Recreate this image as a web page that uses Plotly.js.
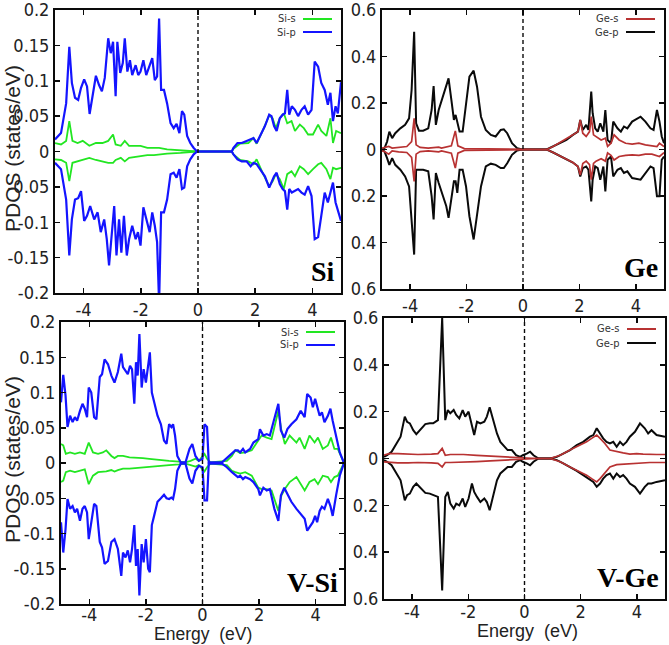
<!DOCTYPE html>
<html>
<head>
<meta charset="utf-8">
<script src="https://cdn.plot.ly/plotly-3.0.1.min.js"></script>
<style>
  html, body { margin: 0; padding: 0; background: #fff; }
  #chart { width: 669px; height: 645px; }
</style>
</head>
<body>
<div id="chart"></div>
<script>
// Spin-resolved partial density of states, energies in eV relative to E_F.
// Each list holds [energy, |PDOS|] pairs; spin-down curves are drawn mirrored below zero.

// ---- Si ----
const si_p_up = [[-5.0,0.017],[-4.79,0.026],[-4.61,0.068],[-4.50,0.148],[-4.41,0.097],[-4.30,0.076],[-4.19,0.073],[-4.09,0.090],[-3.98,0.102],[-3.88,0.092],[-3.79,0.053],[-3.69,0.078],[-3.57,0.107],[-3.46,0.094],[-3.36,0.085],[-3.26,0.104],[-3.14,0.160],[-3.05,0.139],[-2.97,0.155],[-2.88,0.078],[-2.82,0.155],[-2.72,0.111],[-2.63,0.125],[-2.56,0.160],[-2.47,0.113],[-2.38,0.129],[-2.30,0.108],[-2.18,0.122],[-2.09,0.108],[-2.01,0.113],[-1.91,0.129],[-1.81,0.108],[-1.69,0.122],[-1.60,0.132],[-1.51,0.101],[-1.43,0.106],[-1.36,0.188],[-1.29,0.087],[-1.19,0.087],[-1.08,0.068],[-0.96,0.040],[-0.85,0.033],[-0.75,0.039],[-0.65,0.026],[-0.56,0.057],[-0.48,0.052],[-0.38,0.022],[-0.27,0.012],[-0.15,0.005],[-0.03,0],[1.18,0],[1.24,0.005],[1.38,0.012],[1.53,0.012],[1.70,0.015],[1.84,0.017],[1.94,0.019],[2.05,0.012],[2.17,0.022],[2.34,0.036],[2.49,0.052],[2.57,0.050],[2.66,0.036],[2.75,0.029],[2.86,0.047],[2.96,0.052],[3.04,0.054],[3.12,0.087],[3.19,0.052],[3.28,0.064],[3.39,0.059],[3.50,0.050],[3.62,0.059],[3.73,0.064],[3.85,0.052],[3.97,0.059],[4.08,0.127],[4.20,0.120],[4.31,0.097],[4.43,0.087],[4.54,0.066],[4.63,0.083],[4.72,0.043],[4.81,0.064],[4.89,0.054],[5.0,0.098]];
const si_p_dn = [[-5.0,0.016],[-4.79,0.025],[-4.61,0.068],[-4.50,0.147],[-4.41,0.096],[-4.30,0.068],[-4.19,0.066],[-4.09,0.056],[-3.98,0.098],[-3.88,0.091],[-3.77,0.077],[-3.63,0.096],[-3.51,0.086],[-3.40,0.114],[-3.28,0.096],[-3.19,0.124],[-3.11,0.161],[-3.01,0.114],[-2.93,0.077],[-2.85,0.147],[-2.76,0.096],[-2.68,0.143],[-2.59,0.091],[-2.49,0.147],[-2.41,0.124],[-2.30,0.105],[-2.18,0.124],[-2.10,0.114],[-2.01,0.133],[-1.91,0.079],[-1.81,0.096],[-1.69,0.114],[-1.60,0.086],[-1.51,0.105],[-1.43,0.128],[-1.36,0.215],[-1.29,0.086],[-1.19,0.086],[-1.08,0.068],[-0.96,0.032],[-0.85,0.030],[-0.75,0.037],[-0.65,0.025],[-0.56,0.053],[-0.48,0.051],[-0.38,0.021],[-0.27,0.011],[-0.15,0.004],[-0.03,0],[1.18,0],[1.24,0.004],[1.38,0.011],[1.53,0.014],[1.70,0.014],[1.84,0.021],[1.94,0.016],[2.05,0.018],[2.17,0.025],[2.34,0.035],[2.49,0.051],[2.57,0.044],[2.66,0.035],[2.75,0.030],[2.86,0.046],[2.96,0.053],[3.04,0.056],[3.12,0.082],[3.19,0.053],[3.28,0.058],[3.39,0.056],[3.50,0.053],[3.62,0.058],[3.73,0.061],[3.85,0.049],[3.97,0.063],[4.08,0.124],[4.20,0.121],[4.31,0.091],[4.43,0.058],[4.54,0.072],[4.63,0.058],[4.72,0.044],[4.81,0.072],[4.89,0.082],[5.0,0.098]];
const si_s_up = [[-5.0,0.012],[-4.79,0.010],[-4.61,0.015],[-4.50,0.043],[-4.39,0.015],[-4.21,0.012],[-4.03,0.015],[-3.80,0.008],[-3.57,0.012],[-3.34,0.012],[-3.14,0.015],[-2.97,0.024],[-2.88,0.010],[-2.70,0.008],[-2.56,0.015],[-2.41,0.008],[-2.24,0.008],[-2.01,0.008],[-1.77,0.005],[-1.54,0.005],[-1.36,0.005],[-1.08,0.003],[-0.61,0.002],[-0.03,0],[1.18,0],[1.24,0.004],[1.47,0.011],[1.76,0.012],[1.94,0.019],[2.05,0.011],[2.28,0.031],[2.49,0.051],[2.61,0.047],[2.72,0.033],[2.86,0.047],[3.00,0.054],[3.12,0.040],[3.27,0.043],[3.39,0.029],[3.56,0.038],[3.70,0.033],[3.85,0.024],[4.02,0.024],[4.20,0.038],[4.31,0.029],[4.49,0.022],[4.63,0.047],[4.72,0.012],[4.83,0.029],[5.0,0.026]];
const si_s_dn = [[-5.0,0.011],[-4.79,0.012],[-4.61,0.016],[-4.50,0.042],[-4.39,0.016],[-4.21,0.014],[-4.03,0.011],[-3.80,0.009],[-3.57,0.012],[-3.34,0.014],[-3.14,0.016],[-2.97,0.016],[-2.88,0.012],[-2.70,0.009],[-2.56,0.014],[-2.41,0.009],[-2.24,0.008],[-2.01,0.007],[-1.77,0.005],[-1.54,0.005],[-1.36,0.004],[-1.08,0.003],[-0.61,0.002],[-0.03,0],[1.18,0],[1.24,0.004],[1.47,0.012],[1.76,0.014],[1.94,0.018],[2.05,0.011],[2.28,0.032],[2.49,0.049],[2.61,0.042],[2.72,0.032],[2.86,0.039],[3.00,0.053],[3.12,0.032],[3.27,0.028],[3.39,0.035],[3.56,0.021],[3.70,0.025],[3.85,0.032],[4.02,0.025],[4.20,0.018],[4.31,0.016],[4.49,0.025],[4.63,0.039],[4.72,0.023],[4.83,0.025],[5.0,0.023]];

// ---- Ge ----
const ge_p_up = [[-5.0,0.0],[-4.91,0.006],[-4.82,0.034],[-4.74,0.077],[-4.64,0.049],[-4.53,0.070],[-4.35,0.091],[-4.18,0.106],[-4.04,0.134],[-3.95,0.256],[-3.86,0.506],[-3.79,0.113],[-3.69,0.081],[-3.54,0.081],[-3.36,0.091],[-3.24,0.170],[-3.17,0.273],[-3.09,0.106],[-2.99,0.170],[-2.84,0.227],[-2.72,0.270],[-2.64,0.306],[-2.54,0.213],[-2.45,0.127],[-2.39,0.149],[-2.33,0.113],[-2.25,0.077],[-2.14,0.077],[-2.02,0.184],[-1.90,0.313],[-1.75,0.339],[-1.63,0.270],[-1.49,0.141],[-1.32,0.084],[-1.14,0.063],[-0.97,0.056],[-0.79,0.084],[-0.68,0.087],[-0.56,0.070],[-0.39,0.027],[-0.21,0.006],[-0.03,0],[0.84,0],[1.07,0.013],[1.31,0.027],[1.54,0.041],[1.77,0.063],[1.95,0.077],[2.03,0.127],[2.12,0.084],[2.24,0.106],[2.32,0.084],[2.42,0.249],[2.47,0.156],[2.56,0.091],[2.65,0.077],[2.74,0.113],[2.85,0.077],[2.92,0.170],[3.00,0.041],[3.12,0.027],[3.20,0.120],[3.35,0.091],[3.47,0.077],[3.58,0.099],[3.70,0.091],[3.87,0.120],[4.17,0.141],[4.34,0.120],[4.52,0.091],[4.63,0.084],[4.75,0.170],[4.84,0.120],[4.92,0.056],[5.0,0.027]];
const ge_p_dn = [[-5.0,0.0],[-4.91,0.009],[-4.82,0.037],[-4.74,0.066],[-4.64,0.037],[-4.53,0.066],[-4.35,0.087],[-4.18,0.116],[-4.04,0.159],[-3.95,0.301],[-3.86,0.452],[-3.79,0.087],[-3.69,0.087],[-3.54,0.087],[-3.36,0.094],[-3.24,0.201],[-3.17,0.301],[-3.09,0.101],[-2.99,0.144],[-2.84,0.201],[-2.72,0.244],[-2.64,0.294],[-2.54,0.201],[-2.45,0.137],[-2.39,0.137],[-2.33,0.187],[-2.25,0.087],[-2.14,0.087],[-2.02,0.159],[-1.90,0.287],[-1.75,0.387],[-1.63,0.273],[-1.49,0.159],[-1.32,0.073],[-1.14,0.061],[-0.97,0.066],[-0.79,0.080],[-0.68,0.080],[-0.56,0.059],[-0.39,0.023],[-0.21,0.004],[-0.03,0],[0.84,0],[1.07,0.013],[1.31,0.027],[1.54,0.041],[1.77,0.056],[1.95,0.073],[2.03,0.116],[2.12,0.080],[2.24,0.073],[2.32,0.087],[2.42,0.223],[2.47,0.130],[2.56,0.073],[2.65,0.080],[2.74,0.130],[2.85,0.073],[2.92,0.180],[3.00,0.044],[3.12,0.030],[3.20,0.116],[3.35,0.087],[3.47,0.080],[3.58,0.101],[3.70,0.094],[3.87,0.123],[4.17,0.130],[4.34,0.101],[4.52,0.073],[4.63,0.080],[4.75,0.201],[4.84,0.201],[4.92,0.044],[5.0,0.030]];
const ge_s_up = [[-5.0,0.006],[-4.91,0.009],[-4.76,0.013],[-4.64,0.006],[-4.41,0.010],[-4.12,0.013],[-3.95,0.034],[-3.86,0.134],[-3.79,0.020],[-3.65,0.009],[-3.36,0.006],[-2.99,0.010],[-2.89,0.006],[-2.54,0.016],[-2.40,0.080],[-2.31,0.016],[-2.08,0.004],[-1.49,0.003],[-0.68,0.001],[-0.03,0],[0.84,0],[1.07,0.013],[1.31,0.030],[1.54,0.044],[1.77,0.063],[1.95,0.077],[2.03,0.127],[2.12,0.070],[2.24,0.056],[2.36,0.077],[2.42,0.141],[2.50,0.063],[2.59,0.056],[2.77,0.041],[2.92,0.049],[3.00,0.013],[3.12,0.027],[3.23,0.063],[3.41,0.041],[3.64,0.027],[3.87,0.023],[4.11,0.027],[4.34,0.020],[4.57,0.016],[4.75,0.013],[4.84,0.027],[5.0,0.013]];
const ge_s_dn = [[-5.0,0.006],[-4.91,0.009],[-4.76,0.020],[-4.64,0.006],[-4.41,0.010],[-4.12,0.013],[-3.95,0.034],[-3.86,0.137],[-3.79,0.020],[-3.65,0.009],[-3.36,0.006],[-2.99,0.010],[-2.89,0.006],[-2.54,0.016],[-2.40,0.080],[-2.31,0.016],[-2.08,0.004],[-1.49,0.003],[-0.68,0.001],[-0.03,0],[0.84,0],[1.07,0.013],[1.31,0.027],[1.54,0.041],[1.77,0.056],[1.95,0.073],[2.03,0.110],[2.12,0.060],[2.24,0.050],[2.36,0.065],[2.42,0.130],[2.50,0.060],[2.59,0.050],[2.77,0.040],[2.92,0.050],[3.00,0.015],[3.12,0.025],[3.23,0.045],[3.41,0.030],[3.64,0.025],[3.87,0.023],[4.11,0.025],[4.34,0.020],[4.57,0.020],[4.75,0.025],[4.84,0.030],[5.0,0.013]];

// ---- V-Si ----
const vsi_p_up = [[-5.0,0.086],[-4.92,0.125],[-4.84,0.096],[-4.77,0.051],[-4.68,0.067],[-4.59,0.058],[-4.51,0.065],[-4.43,0.060],[-4.33,0.074],[-4.24,0.084],[-4.16,0.077],[-4.08,0.065],[-4.02,0.107],[-3.93,0.100],[-3.83,0.065],[-3.75,0.062],[-3.63,0.122],[-3.55,0.126],[-3.46,0.147],[-3.34,0.140],[-3.22,0.124],[-3.11,0.114],[-2.99,0.129],[-2.87,0.155],[-2.81,0.136],[-2.72,0.131],[-2.64,0.126],[-2.56,0.138],[-2.49,0.133],[-2.41,0.084],[-2.35,0.143],[-2.29,0.124],[-2.23,0.183],[-2.15,0.107],[-2.08,0.133],[-2.00,0.114],[-1.92,0.143],[-1.86,0.157],[-1.79,0.100],[-1.71,0.086],[-1.59,0.067],[-1.47,0.055],[-1.36,0.032],[-1.27,0.027],[-1.18,0.055],[-1.10,0.051],[-1.04,0.055],[-0.97,0.039],[-0.89,0.010],[-0.77,0.001],[-0.60,0.001],[-0.46,0.020],[-0.36,0.027],[-0.25,0.010],[-0.13,0.003],[0.0,0.006],[0.07,0.055],[0.16,0.051],[0.22,0.001],[0.69,0.001],[0.86,0.007],[1.04,0.014],[1.16,0.018],[1.25,0.018],[1.33,0.015],[1.43,0.020],[1.51,0.015],[1.68,0.020],[1.80,0.029],[1.97,0.034],[2.03,0.048],[2.15,0.039],[2.27,0.041],[2.38,0.039],[2.54,0.062],[2.68,0.084],[2.77,0.046],[2.89,0.036],[3.00,0.048],[3.14,0.055],[3.32,0.062],[3.47,0.074],[3.61,0.065],[3.70,0.098],[3.82,0.093],[3.90,0.079],[3.98,0.091],[4.05,0.081],[4.14,0.067],[4.22,0.072],[4.31,0.058],[4.43,0.067],[4.52,0.077],[4.60,0.060],[4.72,0.039],[4.85,0.015],[5.0,0.0]];
const vsi_p_dn = [[-5.0,0.084],[-4.92,0.127],[-4.84,0.094],[-4.77,0.051],[-4.68,0.065],[-4.59,0.061],[-4.51,0.070],[-4.43,0.065],[-4.33,0.082],[-4.24,0.065],[-4.16,0.061],[-4.08,0.070],[-4.02,0.108],[-3.93,0.084],[-3.83,0.058],[-3.75,0.061],[-3.63,0.112],[-3.55,0.120],[-3.46,0.143],[-3.34,0.139],[-3.22,0.112],[-3.11,0.108],[-2.99,0.122],[-2.87,0.160],[-2.81,0.127],[-2.72,0.134],[-2.64,0.124],[-2.56,0.141],[-2.49,0.122],[-2.41,0.088],[-2.35,0.146],[-2.29,0.122],[-2.23,0.188],[-2.15,0.115],[-2.08,0.141],[-2.00,0.108],[-1.92,0.150],[-1.86,0.155],[-1.79,0.088],[-1.71,0.075],[-1.59,0.055],[-1.47,0.050],[-1.36,0.045],[-1.27,0.050],[-1.18,0.051],[-1.10,0.049],[-1.04,0.051],[-0.97,0.037],[-0.89,0.011],[-0.77,0.001],[-0.60,0.001],[-0.46,0.022],[-0.36,0.029],[-0.25,0.011],[-0.13,0.004],[0.0,0.006],[0.07,0.053],[0.16,0.053],[0.22,0.001],[0.69,0.001],[0.86,0.006],[1.04,0.013],[1.16,0.017],[1.25,0.020],[1.33,0.018],[1.43,0.023],[1.51,0.020],[1.68,0.023],[1.80,0.027],[1.97,0.037],[2.03,0.046],[2.15,0.035],[2.27,0.039],[2.38,0.037],[2.54,0.065],[2.68,0.082],[2.77,0.046],[2.89,0.035],[3.00,0.044],[3.14,0.055],[3.32,0.065],[3.47,0.072],[3.61,0.079],[3.70,0.096],[3.82,0.089],[3.90,0.084],[3.98,0.075],[4.05,0.084],[4.14,0.068],[4.22,0.062],[4.31,0.065],[4.43,0.051],[4.52,0.061],[4.60,0.075],[4.72,0.046],[4.85,0.018],[5.0,0.0]];
const vsi_s_up = [[-5.0,0.027],[-4.92,0.025],[-4.83,0.013],[-4.68,0.015],[-4.51,0.013],[-4.33,0.015],[-4.16,0.013],[-4.02,0.029],[-3.87,0.015],[-3.69,0.013],[-3.52,0.015],[-3.40,0.018],[-3.22,0.010],[-3.11,0.007],[-2.99,0.010],[-2.81,0.010],[-2.58,0.008],[-2.35,0.008],[-2.11,0.007],[-1.88,0.006],[-1.53,0.004],[-1.18,0.003],[-0.83,0.002],[-0.60,0.001],[-0.42,0.003],[-0.25,0.006],[-0.13,0.003],[0.0,0.010],[0.07,0.013],[0.16,0.006],[0.28,0.001],[0.86,0.003],[1.04,0.010],[1.16,0.018],[1.33,0.014],[1.51,0.015],[1.74,0.018],[1.97,0.032],[2.09,0.039],[2.27,0.036],[2.44,0.034],[2.68,0.074],[2.79,0.046],[2.91,0.027],[3.08,0.039],[3.32,0.029],[3.43,0.036],[3.61,0.020],[3.78,0.039],[3.96,0.029],[4.08,0.036],[4.25,0.020],[4.43,0.025],[4.54,0.036],[4.66,0.020],[4.78,0.020],[5.0,0.0]];
const vsi_s_dn = [[-5.0,0.027],[-4.92,0.025],[-4.83,0.013],[-4.68,0.011],[-4.51,0.013],[-4.33,0.011],[-4.16,0.009],[-4.02,0.030],[-3.87,0.018],[-3.69,0.013],[-3.52,0.013],[-3.40,0.012],[-3.22,0.010],[-3.11,0.012],[-2.99,0.010],[-2.81,0.008],[-2.58,0.008],[-2.35,0.007],[-2.11,0.006],[-1.88,0.005],[-1.53,0.004],[-1.18,0.003],[-0.83,0.002],[-0.60,0.001],[-0.42,0.003],[-0.25,0.005],[-0.13,0.003],[0.0,0.010],[0.07,0.012],[0.16,0.006],[0.28,0.001],[0.86,0.003],[1.04,0.011],[1.16,0.013],[1.33,0.015],[1.51,0.013],[1.74,0.018],[1.97,0.035],[2.09,0.037],[2.27,0.037],[2.44,0.039],[2.68,0.068],[2.79,0.046],[2.91,0.037],[3.08,0.027],[3.32,0.020],[3.43,0.027],[3.61,0.039],[3.78,0.027],[3.96,0.023],[4.08,0.030],[4.25,0.018],[4.43,0.020],[4.54,0.027],[4.66,0.020],[4.78,0.018],[5.0,0.0]];

// ---- V-Ge ----
const vge_p_up = [[-5.0,0.007],[-4.89,0.014],[-4.73,0.029],[-4.56,0.064],[-4.41,0.093],[-4.26,0.179],[-4.18,0.157],[-4.08,0.150],[-3.96,0.121],[-3.85,0.104],[-3.67,0.129],[-3.53,0.147],[-3.37,0.150],[-3.25,0.150],[-3.08,0.164],[-2.93,0.600],[-2.82,0.164],[-2.73,0.207],[-2.64,0.193],[-2.52,0.207],[-2.43,0.186],[-2.32,0.171],[-2.20,0.207],[-2.11,0.179],[-1.99,0.200],[-1.87,0.143],[-1.79,0.100],[-1.69,0.157],[-1.57,0.150],[-1.43,0.157],[-1.34,0.179],[-1.24,0.219],[-1.10,0.164],[-0.98,0.107],[-0.86,0.071],[-0.72,0.050],[-0.60,0.036],[-0.45,0.036],[-0.30,0.014],[-0.15,0.007],[-0.06,0.014],[0.08,0.021],[0.20,0.029],[0.32,0.014],[0.50,0.0],[0.91,0.0],[1.15,0.007],[1.38,0.021],[1.62,0.036],[1.86,0.057],[2.09,0.071],[2.33,0.093],[2.45,0.100],[2.57,0.129],[2.69,0.107],[2.80,0.086],[2.92,0.071],[3.04,0.064],[3.16,0.071],[3.28,0.050],[3.40,0.071],[3.51,0.057],[3.63,0.071],[3.75,0.093],[3.93,0.114],[4.11,0.150],[4.28,0.129],[4.40,0.107],[4.52,0.121],[4.70,0.100],[5.0,0.093]];
const vge_p_dn = [[-5.0,0.007],[-4.89,0.014],[-4.73,0.029],[-4.56,0.064],[-4.41,0.093],[-4.26,0.179],[-4.18,0.157],[-4.08,0.150],[-3.96,0.121],[-3.85,0.107],[-3.67,0.129],[-3.53,0.147],[-3.37,0.150],[-3.25,0.157],[-3.08,0.164],[-2.93,0.564],[-2.82,0.164],[-2.73,0.143],[-2.64,0.193],[-2.52,0.214],[-2.43,0.193],[-2.32,0.200],[-2.20,0.171],[-2.11,0.207],[-1.99,0.171],[-1.87,0.107],[-1.79,0.143],[-1.69,0.164],[-1.57,0.186],[-1.43,0.171],[-1.34,0.186],[-1.24,0.221],[-1.10,0.157],[-0.98,0.093],[-0.86,0.064],[-0.72,0.050],[-0.60,0.036],[-0.45,0.036],[-0.30,0.014],[-0.15,0.007],[-0.06,0.014],[0.08,0.021],[0.20,0.029],[0.32,0.014],[0.50,0.0],[0.91,0.0],[1.15,0.007],[1.38,0.021],[1.62,0.036],[1.86,0.053],[2.09,0.071],[2.33,0.093],[2.45,0.100],[2.57,0.121],[2.69,0.107],[2.80,0.086],[2.92,0.071],[3.04,0.064],[3.16,0.086],[3.28,0.064],[3.40,0.079],[3.51,0.071],[3.63,0.086],[3.75,0.107],[3.93,0.121],[4.11,0.150],[4.28,0.121],[4.40,0.107],[4.52,0.107],[4.70,0.100],[5.0,0.093]];
const vge_s_up = [[-5.0,0.014],[-4.82,0.021],[-4.51,0.021],[-4.14,0.019],[-3.79,0.017],[-3.31,0.019],[-3.08,0.021],[-2.93,0.043],[-2.82,0.014],[-2.64,0.017],[-2.17,0.017],[-1.70,0.013],[-1.22,0.010],[-0.75,0.007],[-0.27,0.004],[0.08,0.003],[0.44,0.0],[0.91,0.0],[1.27,0.014],[1.62,0.036],[1.98,0.057],[2.21,0.071],[2.39,0.086],[2.57,0.100],[2.69,0.086],[2.86,0.064],[3.04,0.036],[3.28,0.029],[3.51,0.024],[3.75,0.019],[3.99,0.021],[4.22,0.019],[4.46,0.017],[4.70,0.017],[5.0,0.017]];
const vge_s_dn = [[-5.0,0.014],[-4.82,0.017],[-4.51,0.019],[-4.14,0.019],[-3.79,0.017],[-3.31,0.019],[-3.08,0.021],[-2.93,0.036],[-2.82,0.017],[-2.64,0.017],[-2.17,0.016],[-1.70,0.013],[-1.22,0.010],[-0.75,0.007],[-0.27,0.004],[0.08,0.003],[0.44,0.0],[0.91,0.0],[1.27,0.014],[1.62,0.036],[1.98,0.057],[2.21,0.071],[2.39,0.086],[2.57,0.100],[2.69,0.086],[2.86,0.060],[3.04,0.036],[3.28,0.026],[3.51,0.024],[3.75,0.021],[3.99,0.019],[4.22,0.019],[4.46,0.017],[4.70,0.017],[5.0,0.017]];

// Axis tick labels (spin-down side of Ge panels labelled by magnitude)
const energyTicks = [-4, -2, 0, 2, 4];
const energyTickText = ['-4', '-2', '0', '2', '4'];
const siTicks = [-0.2, -0.15, -0.1, -0.05, 0, 0.05, 0.1, 0.15, 0.2];
const siTickText = ['-0.2', '-0.15', '-0.1', '-0.05', '0', '0.05', '0.1', '0.15', '0.2'];
const geTicks = [-0.6, -0.4, -0.2, 0, 0.2, 0.4, 0.6];
const geTickText = ['0.6', '0.4', '0.2', '0', '0.2', '0.4', '0.6'];

const panelNames = ['Si', 'Ge', 'V-Si', 'V-Ge'];
const seriesNames = [['Si-s', 'Si-p'], ['Ge-s', 'Ge-p'], ['Si-s', 'Si-p'], ['Ge-s', 'Ge-p']];

// ---------------------------------------------------------------------------
const W = 669, H = 645;
const px = x => x / W;
const py = y => 1 - y / H;

const GREEN = '#22e622', BLUE = '#1414ff', RED = '#b83232', BLACK = '#0a0a0a';
const NARROW = 'Liberation Sans Narrow, DejaVu Sans Condensed, Roboto, sans-serif';
const SANS = 'Liberation Sans, Arial, sans-serif';
const TICK_FONT = { family: NARROW, size: 18, color: '#222' };

// plot-area boxes in pixels: [left, right, top, bottom]
const boxes = [[55, 341, 10, 293], [382, 664, 10, 289], [61, 344, 322, 604], [384, 665, 318, 599]];
// tick-label offsets for the energy axes
const xLabelShift = [-1, -1, -7, -5];

const curves = [
  { s: [si_s_up, si_s_dn], p: [si_p_up, si_p_dn], sc: GREEN, pc: BLUE, sFirst: true },
  { s: [ge_s_up, ge_s_dn], p: [ge_p_up, ge_p_dn], sc: RED, pc: BLACK, sFirst: false },
  { s: [vsi_s_up, vsi_s_dn], p: [vsi_p_up, vsi_p_dn], sc: GREEN, pc: BLUE, sFirst: true },
  { s: [vge_s_up, vge_s_dn], p: [vge_p_up, vge_p_dn], sc: RED, pc: BLACK, sFirst: false }
];

function line(pairs, sign, color, width, n, name) {
  return {
    type: 'scatter', mode: 'lines', name: name, showlegend: false, hoverinfo: 'skip',
    x: pairs.map(p => p[0]),
    y: pairs.map(p => sign * p[1]),
    xaxis: 'x' + (n === 1 ? '' : n), yaxis: 'y' + (n === 1 ? '' : n),
    line: { color: color, width: width, shape: 'linear' }
  };
}

const data = [];
curves.forEach((c, i) => {
  const n = i + 1;
  const sw = c.sc === GREEN ? 1.8 : 1.7;
  const pw = c.pc === BLUE ? 2.2 : 2;
  const sTr = [line(c.s[0], 1, c.sc, sw, n, seriesNames[i][0]), line(c.s[1], -1, c.sc, sw, n, seriesNames[i][0])];
  const pTr = [line(c.p[0], 1, c.pc, pw, n, seriesNames[i][1]), line(c.p[1], -1, c.pc, pw, n, seriesNames[i][1])];
  if (c.sFirst) data.push(...sTr, ...pTr); else data.push(...pTr, ...sTr);
});

const layout = {
  width: W, height: H,
  margin: { l: 0, r: 0, t: 0, b: 0 },
  paper_bgcolor: '#fff', plot_bgcolor: '#fff',
  showlegend: false,
  font: { family: NARROW, color: '#222' },
  shapes: [], annotations: []
};

const axBase = {
  showline: true, mirror: 'ticks', linecolor: BLACK, linewidth: 2,
  ticks: 'inside', ticklen: 5, tickwidth: 1.5, tickcolor: BLACK,
  showgrid: false, zeroline: false, tickfont: TICK_FONT, fixedrange: true,
  ticklabeloverflow: 'allow'
};

boxes.forEach((b, i) => {
  const n = i + 1;
  const sfx = n === 1 ? '' : String(n);
  const isGe = (i % 2 === 1);
  layout['xaxis' + sfx] = Object.assign({}, axBase, {
    domain: [px(b[0]), px(b[1])], anchor: 'y' + sfx, range: [-5, 5],
    tickmode: 'array', tickvals: energyTicks, ticktext: energyTickText,
    ticklabelstandoff: xLabelShift[i]
  });
  layout['yaxis' + sfx] = Object.assign({}, axBase, {
    domain: [py(b[3]), py(b[2])], anchor: 'x' + sfx,
    range: isGe ? [-0.6, 0.6] : [-0.2, 0.2],
    tickmode: 'array',
    tickvals: isGe ? geTicks : siTicks,
    ticktext: isGe ? geTickText : siTickText
  });

  // Fermi level
  layout.shapes.push({
    type: 'line', xref: 'x' + sfx, yref: 'y' + sfx + ' domain',
    x0: 0, x1: 0, y0: 0, y1: 1,
    line: { color: BLACK, width: 1.4, dash: '4px,3px' }
  });

  // key in the upper-right corner: label then a short line sample
  const keyY = i < 2 ? [19, 32] : (i === 2 ? [332, 345] : [329, 343]);
  const keyTextRight = b[1] - 43;
  const cols = [curves[i].sc, curves[i].pc];
  for (let k = 0; k < 2; k++) {
    layout.annotations.push({
      xref: 'paper', yref: 'paper', x: px(keyTextRight), y: py(keyY[k]),
      xanchor: 'right', yanchor: 'middle', showarrow: false,
      text: seriesNames[i][k],
      font: { family: NARROW, size: 11, color: '#333' }
    });
    layout.shapes.push({
      type: 'line', xref: 'paper', yref: 'paper',
      x0: px(keyTextRight + 5), x1: px(b[1] - 9), y0: py(keyY[k]), y1: py(keyY[k]),
      line: { color: cols[k], width: 2 }
    });
  }

  // system label in the lower-right corner
  layout.annotations.push({
    xref: 'paper', yref: 'paper', x: px(b[1] - 4), y: py(b[3] - 4),
    xanchor: 'right', yanchor: 'bottom', showarrow: false,
    text: '<b>' + panelNames[i] + '</b>',
    font: { family: 'Liberation Serif, Times New Roman, serif', size: 28, color: '#000' }
  });
});

// y-axis titles (left column)
[149, 460].forEach(yc => {
  layout.annotations.push({
    xref: 'paper', yref: 'paper', x: px(12), y: py(yc),
    xanchor: 'center', yanchor: 'middle', showarrow: false, textangle: -90,
    text: 'PDOS (states/eV)',
    font: { family: SANS, size: 21, color: '#222' }
  });
});
// x-axis titles (bottom row)
layout.annotations.push({
  xref: 'paper', yref: 'paper', x: px(203), y: 0,
  xanchor: 'center', yanchor: 'bottom', showarrow: false, borderpad: 0,
  text: 'Energy\u00a0 (eV)',
  font: { family: SANS, size: 17.5, color: '#222' }
});
layout.annotations.push({
  xref: 'paper', yref: 'paper', x: px(527), y: py(631),
  xanchor: 'center', yanchor: 'middle', showarrow: false,
  text: 'Energy\u00a0 (eV)',
  font: { family: SANS, size: 18, color: '#222' }
});

Plotly.newPlot('chart', data, layout, { staticPlot: true, displayModeBar: false });
</script>
</body>
</html>
